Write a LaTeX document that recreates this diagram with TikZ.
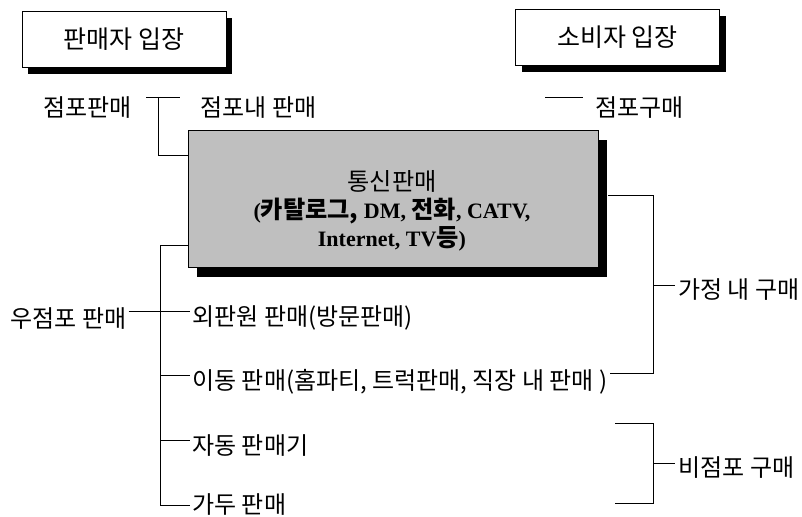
\documentclass[tikz,border=0pt]{standalone}
\usepackage{fontspec}
\setmainfont{Liberation Serif}
\newfontfamily\kr{Noto Sans CJK KR}
\newfontfamily\krbox[Scale=1.1]{Noto Sans CJK KR}
\usetikzlibrary{shadows}
\begin{document}
\begin{tikzpicture}[x=1pt,y=-1pt,line width=0.8pt,
  lbl/.style={inner sep=0pt,anchor=west,font=\kr\fontsize{24}{28}\selectfont},
  headbox/.style={draw,fill=white,minimum width=204pt,minimum height=56pt,inner sep=0pt,
    font=\kr\fontsize{25}{28}\selectfont,
    drop shadow={shadow xshift=6pt,shadow yshift=-7pt,fill=black,opacity=1}},
  mainbox/.style={draw,fill=black!25,minimum width=410pt,minimum height=137pt,
    drop shadow={shadow xshift=9pt,shadow yshift=-10pt,fill=black,opacity=1}},
  boxtext/.style={align=center,inner sep=0pt,font=\bfseries\fontsize{22}{28}\selectfont},
  conn/.style={draw,line width=0.8pt}]
\useasboundingbox (0,0) rectangle (802,516);
\fill[white] (0,0) rectangle (802,516);

% header boxes
\node[headbox] (seller) at (124,39) {판매자 입장};
\node[headbox] (buyer) at (617.5,37) {소비자 입장};

% central box
\node[mainbox] (tongsin) at (393,198.5) {};
\node[boxtext] (tongsintext) at (392,211) {{\mdseries\krbox 통신판매}\\({\krbox 카탈로그,} DM, {\krbox 전화}, CATV,\\Internet, TV{\krbox 등})};

% labels
\node[lbl] (jpp) at (43,108) {점포판매};
\node[lbl] (jpn) at (200,108) {점포내 판매};
\node[lbl] (jpg) at (595,108) {점포구매};
\node[lbl] (ujp) at (10,319) {우점포 판매};
\node[lbl] (oep) at (192,318) {외판원 판매(방문판매)};
\node[lbl] (idong) at (192,382) {이동 판매(홈파티, 트럭판매, 직장 내 판매 )};
\node[lbl] (jadong) at (192,446) {자동 판매기};
\node[lbl] (gadu) at (192,505) {가두 판매};
\node[lbl] (gajeong) at (678,290) {가정 내 구매};
\node[lbl] (bijp) at (678,468) {비점포 구매};

% coordinates
\coordinate (tA) at (146,97);
\coordinate (tB) at (180,97);
\coordinate (tJ) at (158,97);
\coordinate (tL) at (158,155);
\coordinate (gA) at (545,97);
\coordinate (gB) at (583,97);
\coordinate (lJ) at (160,245);
\coordinate (lE) at (160,505);
\coordinate (rJ) at (653,195);
\coordinate (rE) at (653,373);
\coordinate (bT) at (653,423);
\coordinate (bB) at (653,503);
\coordinate (bTl) at (615,423);
\coordinate (bBl) at (615,503);

% connectors
\draw[conn] (tA) -- (tB);
\draw[conn] (tJ) -- (tL) -- (tongsin.west |- tL);
\draw[conn] (gA) -- (gB);
\draw[conn] (tongsin.west |- lJ) -- (lJ) -- (lE) -- ([xshift=-2pt]gadu.west |- lE);
\draw[conn] ([xshift=2pt]ujp.east |- 0,311) -- ([xshift=-2pt]oep.west |- 0,311);
\draw[conn] (lJ |- 0,375) -- ([xshift=-2pt]idong.west |- 0,375);
\draw[conn] (lJ |- 0,440) -- ([xshift=-2pt]jadong.west |- 0,440);
\draw[conn] ([xshift=10pt]tongsin.east |- rJ) -- (rJ) -- (rE) -- ([xshift=2pt]idong.east |- rE);
\draw[conn] (rJ |- 0,285) -- ([xshift=-3pt]gajeong.west |- 0,285);
\draw[conn] (bTl) -- (bT) -- (bB) -- (bBl);
\draw[conn] (bT |- 0,463) -- ([xshift=-3pt]bijp.west |- 0,463);
\end{tikzpicture}
\end{document}
